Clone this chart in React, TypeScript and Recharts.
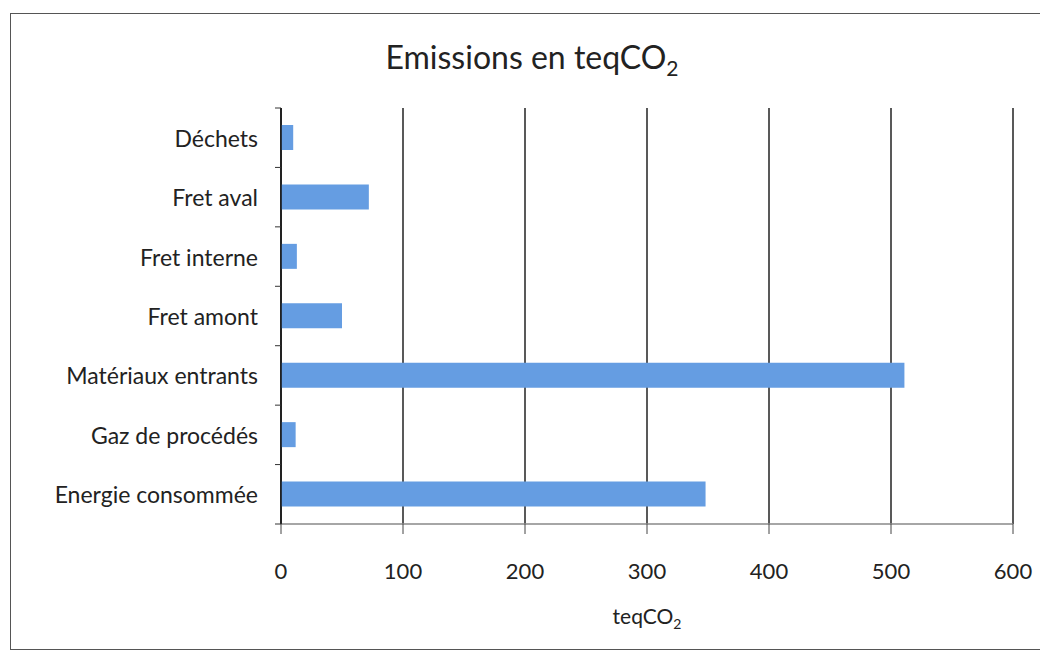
import { BarChart, Bar, XAxis, YAxis, CartesianGrid } from "recharts";

const categories = [
  "Déchets",
  "Fret aval",
  "Fret interne",
  "Fret amont",
  "Matériaux entrants",
  "Gaz de procédés",
  "Energie consommée",
];

const emissions = [10, 72, 13, 50, 511, 12, 348];

const xTicks = [0, 100, 200, 300, 400, 500, 600];

const data = categories.map((name, i) => ({ name, value: emissions[i] }));

const FONT = "Lato, 'Open Sans', sans-serif";

// category label at band centre, little tick mark on the band boundary (Excel style)
function CategoryTick(props: any) {
  const { x, y, payload, index } = props;
  const off = payload?.offset ?? 0;
  return (
    <g>
      <text
        x={x}
        y={y}
        textAnchor="end"
        dominantBaseline="central"
        fill="#222"
        fontSize={23}
        fontFamily={FONT}
      >
        {payload.value}
      </text>
      <line x1={x + 17} x2={x + 23} y1={y - off} y2={y - off} stroke="#333" />
      {index === categories.length - 1 && (
        <line x1={x + 17} x2={x + 23} y1={y + off} y2={y + off} stroke="#333" />
      )}
    </g>
  );
}

export default function App() {
  return (
    <div
      style={{
        position: "absolute",
        left: 0,
        top: 0,
        width: 1040,
        height: 659,
        background: "#fff",
        overflow: "hidden",
        fontFamily: FONT,
      }}
    >
      <div
        style={{
          position: "absolute",
          left: 10,
          top: 13,
          width: 1040,
          height: 637,
          border: "1.5px solid #555",
          boxSizing: "border-box",
        }}
      />
      <div
        style={{
          position: "absolute",
          left: 0,
          width: 1064,
          top: 37,
          textAlign: "center",
          fontSize: 32,
          color: "#222",
        }}
      >
        Emissions en teqCO<sub style={{ fontSize: 21 }}>2</sub>
      </div>
      <BarChart
        width={1040}
        height={659}
        layout="vertical"
        data={data}
        margin={{ top: 108, right: 27, left: 0, bottom: 75 }}
        style={{ position: "absolute", left: 0, top: 0 }}
      >
        <CartesianGrid horizontal={false} stroke="#222" strokeWidth={1.5} />
        <XAxis
          type="number"
          domain={[0, 600]}
          ticks={xTicks}
          height={60}
          tickSize={10}
          tickMargin={29}
          axisLine={{ stroke: "#888", strokeWidth: 1.5 }}
          tickLine={{ stroke: "#444" }}
          tick={{ fill: "#222", fontSize: 22, fontFamily: FONT }}
        />
        <YAxis
          type="category"
          dataKey="name"
          width={281}
          tickSize={6}
          tickMargin={17}
          tickLine={false}
          axisLine={{ stroke: "#111", strokeWidth: 1.5 }}
          tick={<CategoryTick />}
        />
        <Bar dataKey="value" fill="#659de2" barSize={25} isAnimationActive={false} />
      </BarChart>
      <div
        style={{
          position: "absolute",
          left: 547,
          width: 200,
          top: 603,
          textAlign: "center",
          fontSize: 21,
          color: "#222",
        }}
      >
        teqCO<sub style={{ fontSize: 14 }}>2</sub>
      </div>
    </div>
  );
}
